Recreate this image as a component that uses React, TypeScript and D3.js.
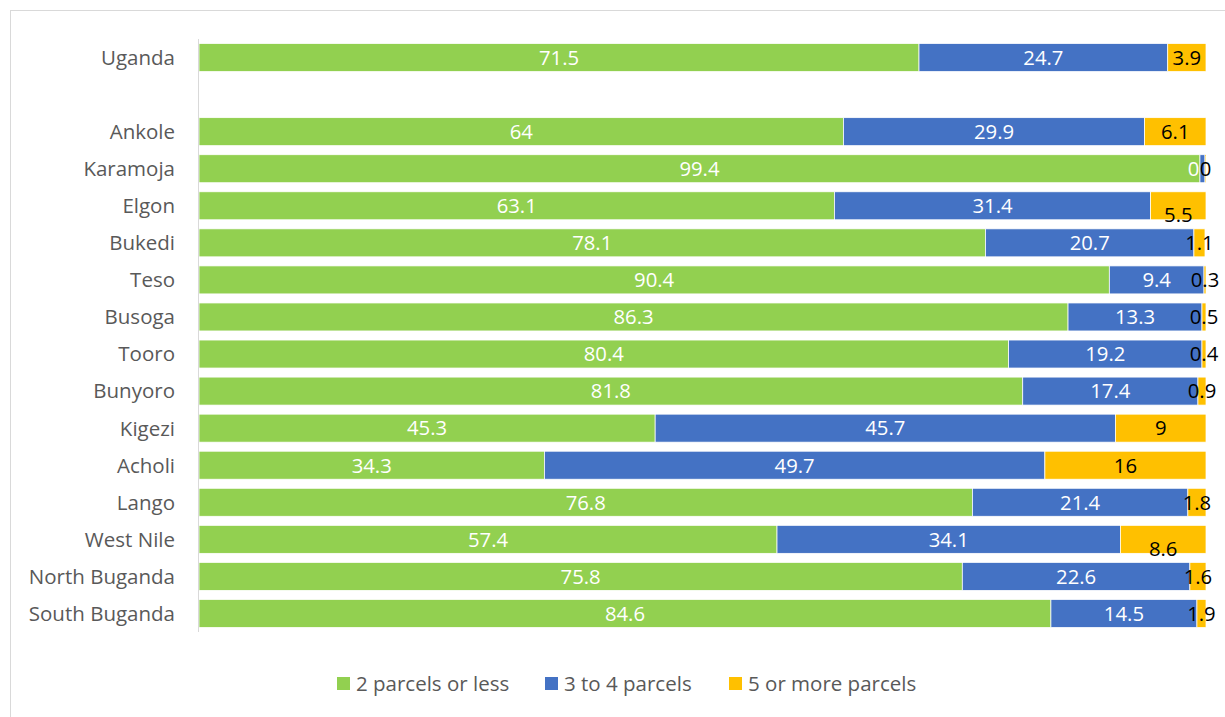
import React from "react";
import * as d3 from "d3";

const categories = ["Uganda", " ", "Ankole", "Karamoja", "Elgon", "Bukedi", "Teso", "Busoga", "Tooro", "Bunyoro", "Kigezi", "Acholi", "Lango", "West Nile", "North Buganda", "South Buganda"];
const twoOrLess = [71.5, null, 64, 99.4, 63.1, 78.1, 90.4, 86.3, 80.4, 81.8, 45.3, 34.3, 76.8, 57.4, 75.8, 84.6];
const threeToFour = [24.7, null, 29.9, 0.5, 31.4, 20.7, 9.4, 13.3, 19.2, 17.4, 45.7, 49.7, 21.4, 34.1, 22.6, 14.5];
const fiveOrMore = [3.9, null, 6.1, 0.1, 5.5, 1.1, 0.3, 0.5, 0.4, 0.9, 9, 16, 1.8, 8.6, 1.6, 1.9];
const seriesNames = ["2 parcels or less", "3 to 4 parcels", "5 or more parcels"];
const seriesColors = ["#92D050", "#4472C4", "#FFC000"];
const labelColors = ["#FFFFFF", "#FFFFFF", "#000000"];
// Karamoja's small shares display as "0" in the source
const labelOverrides: Record<string, string> = { "Karamoja-1": "0", "Karamoja-2": "0" };
const labelNudges: Record<string, [number, number]> = {
  "Karamoja-1": [-9, 0],
  "Elgon-2": [0, 9],
  "West Nile-2": [0, 9],
};

const FONT = "'Open Sans', sans-serif";

export default function App() {
  const W = 1225, H = 717;
  const x = d3.scaleLinear().domain([0, 100]).range([199, 1206]).clamp(true);
  const y = d3.scaleBand<string>().domain(categories).range([39, 632]).paddingInner(0.245).paddingOuter(0.1225);
  const series = [twoOrLess, threeToFour, fiveOrMore];

  const bars: React.ReactNode[] = [];
  const labels: React.ReactNode[] = [];
  categories.forEach((cat, i) => {
    if (twoOrLess[i] == null) return;
    let acc = 0;
    series.forEach((s, j) => {
      const v = s[i] as number;
      const x0 = x(acc), x1 = x(acc + v);
      acc += v;
      const y0 = y(cat)!;
      bars.push(
        <rect key={`b-${i}-${j}`} x={x0} y={y0} width={Math.max(0, x1 - x0)} height={y.bandwidth()} fill={seriesColors[j]} stroke="#FFFFFF" strokeWidth={0.75} />
      );
      const key = `${cat}-${j}`;
      const txt = labelOverrides[key] ?? String(v);
      const [dx, dy] = labelNudges[key] ?? [0, 0];
      labels.push(
        <text key={`l-${i}-${j}`} x={(x0 + x1) / 2 + dx} y={y0 + y.bandwidth() / 2 + dy} dy="0.36em" textAnchor="middle" fill={labelColors[j]} fontSize={20.3} fontFamily={FONT}>{txt}</text>
      );
    });
  });

  const legendItems = [
    { sq: 337, tx: 356 },
    { sq: 545, tx: 564 },
    { sq: 729, tx: 748 },
  ];

  return (
    <svg width={W} height={H} style={{ position: "absolute", left: 0, top: 0, background: "#fff" }}>
      <rect x={10.5} y={10.5} width={W + 10} height={H + 10} fill="#FFFFFF" stroke="#D9D9D9" strokeWidth={1} />
      {bars}
      <line x1={198.5} x2={198.5} y1={39} y2={632} stroke="#D9D9D9" strokeWidth={1} />
      {categories.map((c) => (
        <text key={`c-${c}`} x={175} y={y(c)! + y.bandwidth() / 2} dy="0.36em" textAnchor="end" fill="#595959" fontSize={20.5} fontFamily={FONT}>{c.trim()}</text>
      ))}
      {labels}
      {seriesNames.map((n, j) => (
        <g key={`lg-${j}`}>
          <rect x={legendItems[j].sq} y={677} width={13} height={13} fill={seriesColors[j]} />
          <text x={legendItems[j].tx} y={684} dy="0.36em" fill="#595959" fontSize={20.5} fontFamily={FONT}>{n}</text>
        </g>
      ))}
    </svg>
  );
}
